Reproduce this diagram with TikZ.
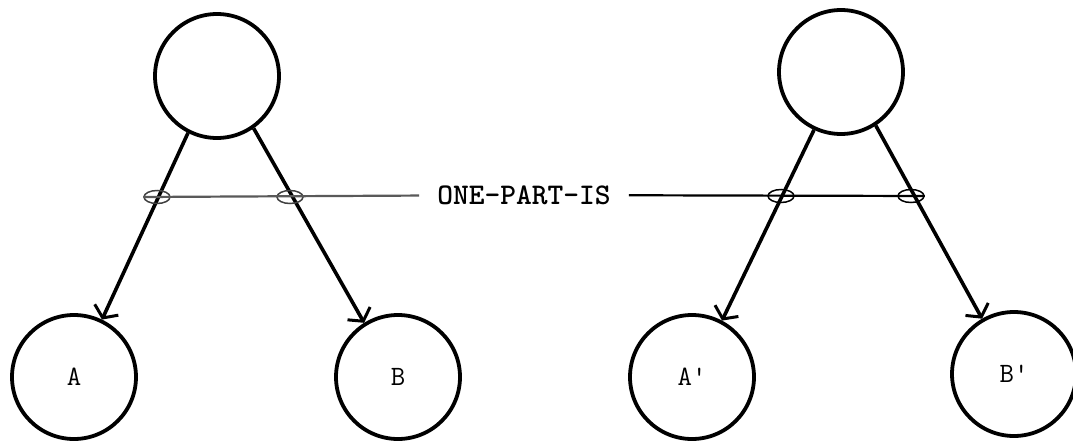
\documentclass[tikz,border=0pt]{standalone}
\usepackage{fontspec}
\usetikzlibrary{arrows.meta,shapes.geometric}
\begin{document}
\begin{tikzpicture}[x=1pt,y=-1pt,
  cnode/.style={circle,draw,line width=3.8pt,minimum size=124pt,inner sep=0pt,
    font=\fontsize{28}{32}\selectfont\ttfamily},
  rel/.style={line width=3.6pt,-{Straight Barb[length=9pt,width=26pt,line width=3pt]}},
  loopmark/.style={ellipse,draw,line width=1.5pt,minimum width=26pt,minimum height=13pt,inner sep=0pt},
  hline/.style={line width=2.2pt},
  lbl/.style={font=\fontsize{30}{34}\selectfont\ttfamily,inner xsep=18pt,inner ysep=2pt}]
\useasboundingbox (0,0) rectangle (1073,442);
% left structure
\node[cnode] (t1) at (217,76) {};
\node[cnode] (a)  at (74,377) {A};
\node[cnode] (b)  at (398,377) {B};
% right structure
\node[cnode] (t2) at (841,72) {};
\node[cnode] (a2) at (692,377) {A'};
\node[cnode] (b2) at (1014,374) {B'};
% arrows
\draw[rel] (t1.243) -- (a.64);
\draw[rel] (t1.305) -- (b.122);
\draw[rel] (t2.245) -- (a2.62);
\draw[rel] (t2.303) -- (b2.120);
% loops
\node[loopmark,black!75] (l1) at (157,197) {};
\node[loopmark,black!75] (l2) at (290,197) {};
\node[loopmark] (r1) at (781,196) {};
\node[loopmark] (r2) at (911,196) {};
% relation label and line
\node[lbl] (rel) at (524,195) {\textbf{ONE-PART-IS}};
\draw[hline,black!65] (l1.west) -- (rel);
\draw[hline] (rel) -- (r2.east);
\end{tikzpicture}
\end{document}
